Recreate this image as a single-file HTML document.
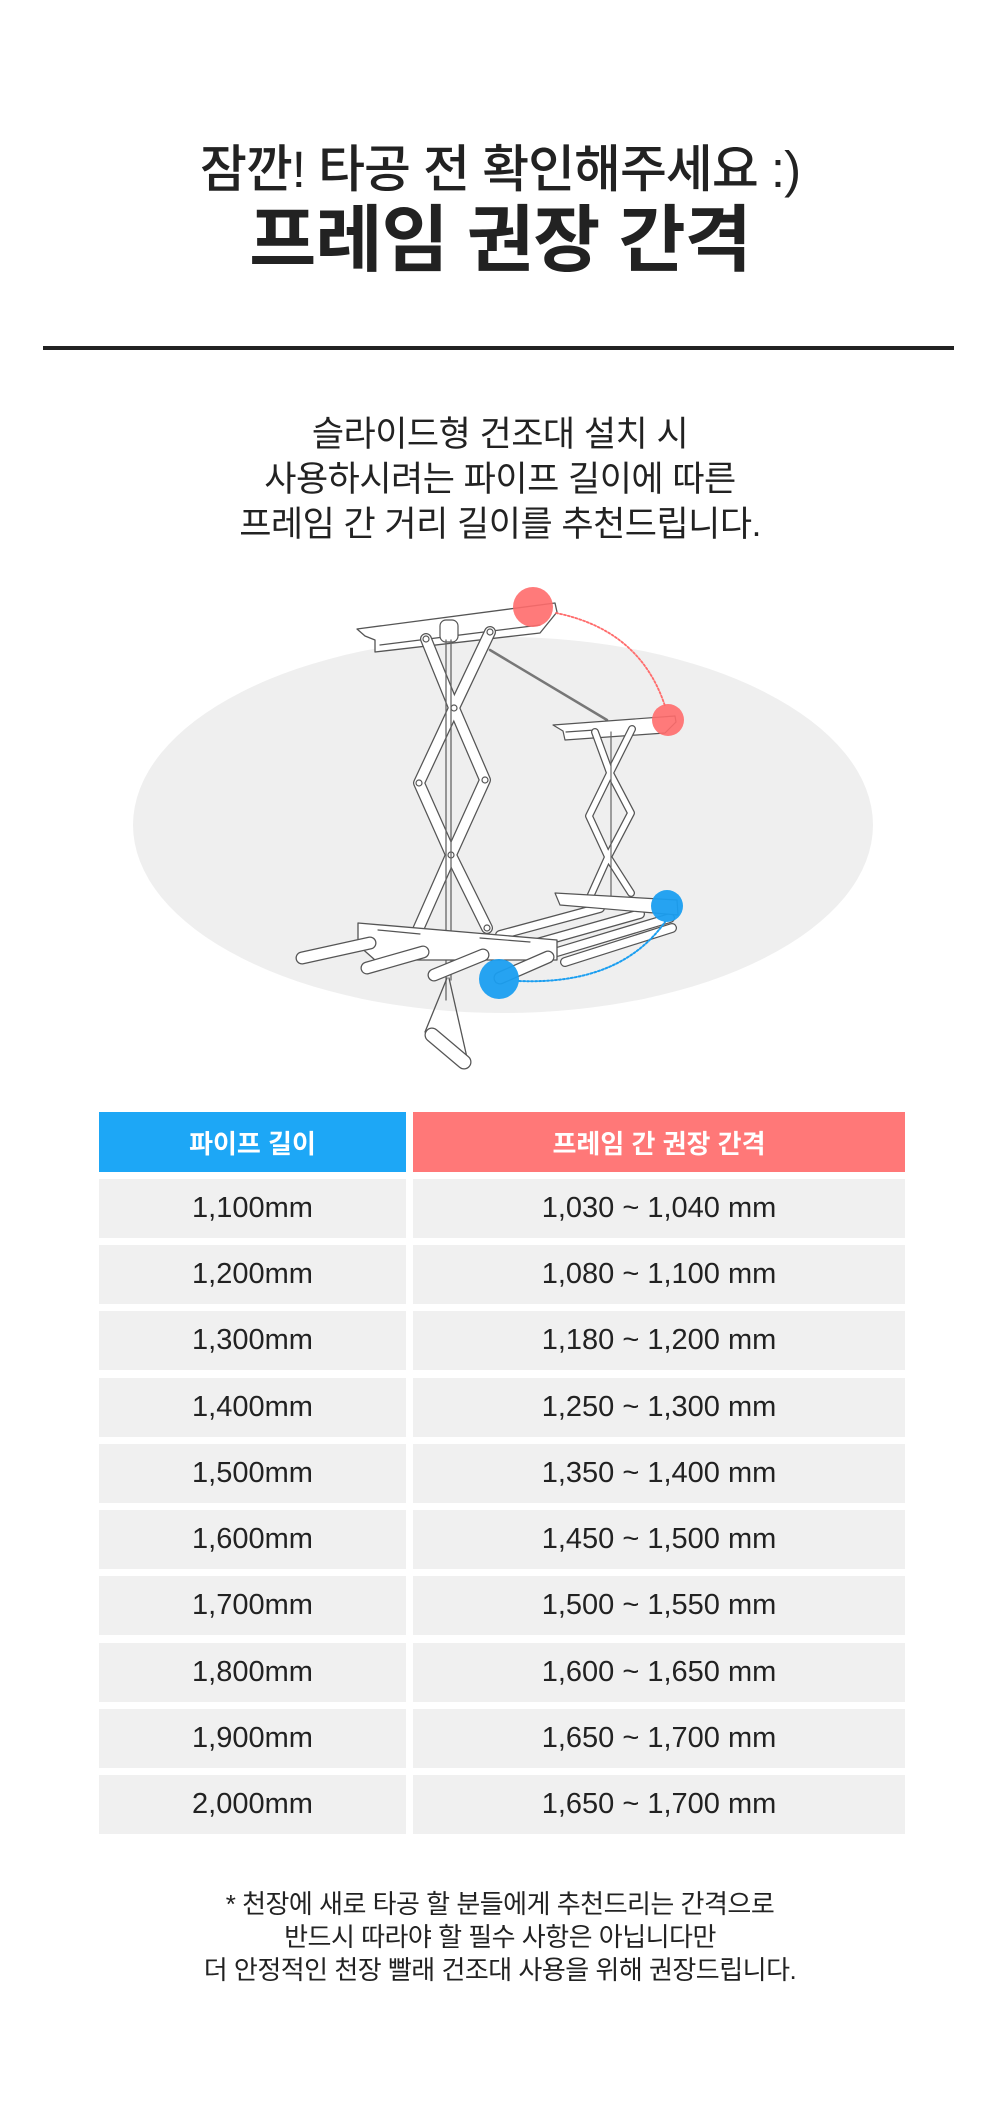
<!DOCTYPE html>
<html><head><meta charset="utf-8">
<style>
*{margin:0;padding:0;box-sizing:border-box}
body{width:1000px;height:2106px;background:#fff;position:relative;overflow:hidden;font-family:"Liberation Sans","Noto Sans CJK KR",sans-serif;color:#222}
.c{position:absolute;left:0;width:1000px;text-align:center;white-space:nowrap}
.t1{top:140px;font-size:51px;font-weight:500;line-height:60px;letter-spacing:-1px}
.t2{top:200px;font-size:73px;font-weight:700;line-height:82px;letter-spacing:-1px}
.rule{position:absolute;left:43px;top:346px;width:911px;height:4px;background:#222}
.p{top:412px;font-size:35px;line-height:45px;letter-spacing:-0.5px}
.cell{position:absolute;display:flex;align-items:center;justify-content:center;font-size:29px;background:#f0f0f0;color:#222}
.h{color:#fff;font-weight:700;font-size:26px}
.fn{top:1888px;font-size:26px;line-height:33px;letter-spacing:-0.5px}
</style></head><body>
<div class="c t1">잠깐! 타공 전 확인해주세요 :)</div>
<div class="c t2">프레임 권장 간격</div>
<div class="rule"></div>
<div class="c p">슬라이드형 건조대 설치 시<br>사용하시려는 파이프 길이에 따른<br>프레임 간 거리 길이를 추천드립니다.</div>

<svg style="position:absolute;left:0;top:0" width="1000" height="1100" viewBox="0 0 1000 1100">
<ellipse cx="503" cy="825" rx="370" ry="188" fill="#efefef"/>
<g fill="none" stroke-linecap="round" stroke-linejoin="round">
<line x1="490" y1="650" x2="607" y2="720" stroke="#777" stroke-width="2.5"/>
<polygon points="357,629 555,603 557,612 540,633 375,652 375,640 365,636" fill="#fff" stroke="#555" stroke-width="1.3"/>
<line x1="380" y1="645" x2="540" y2="625" stroke="#555" stroke-width="1.3"/>
<g stroke="#555" stroke-width="12"><polyline points="426,639 454,708 485,780 451,855 417,932"/><polyline points="490,632 454,708 419,783 451,855 487,928"/></g>
<g stroke="#fff" stroke-width="9.5"><polyline points="426,639 454,708 485,780 451,855 417,932"/><polyline points="490,632 454,708 419,783 451,855 487,928"/></g>
<g fill="#fff" stroke="#555" stroke-width="1.2"><circle cx="426" cy="639" r="3"/><circle cx="490" cy="632" r="3"/><circle cx="454" cy="708" r="3"/><circle cx="419" cy="783" r="3"/><circle cx="485" cy="780" r="3"/><circle cx="451" cy="855" r="3"/><circle cx="417" cy="932" r="3"/><circle cx="487" cy="928" r="3"/></g>
<rect x="440" y="620" width="18" height="22" rx="6" fill="#fff" stroke="#555" stroke-width="1.2"/>
<line x1="446" y1="640" x2="446" y2="1000" stroke="#666" stroke-width="1.3"/>
<line x1="451" y1="640" x2="451" y2="980" stroke="#666" stroke-width="1.3"/>
<polygon points="553,725 675,716 676,722 665,733 565,740 563,731" fill="#fff" stroke="#555" stroke-width="1.2"/>
<line x1="566" y1="732" x2="595" y2="730" stroke="#555" stroke-width="1.2"/>
<g stroke="#555" stroke-width="8"><polyline points="595,732 610,773 631,813 608,857 590,897"/><polyline points="632,729 610,773 589,816 608,857 631,893"/></g>
<g stroke="#fff" stroke-width="5.5"><polyline points="595,732 610,773 631,813 608,857 590,897"/><polyline points="632,729 610,773 589,816 608,857 631,893"/></g>
<line x1="611" y1="732" x2="611" y2="900" stroke="#666" stroke-width="1.2"/>
<g stroke="#555" stroke-width="10"><line x1="500" y1="935" x2="600" y2="908"/><line x1="530" y1="945" x2="640" y2="914"/><line x1="557" y1="952" x2="670" y2="918"/><line x1="565" y1="962" x2="672" y2="928"/></g>
<g stroke="#fff" stroke-width="7.5"><line x1="500" y1="935" x2="600" y2="908"/><line x1="530" y1="945" x2="640" y2="914"/><line x1="557" y1="952" x2="670" y2="918"/><line x1="565" y1="962" x2="672" y2="928"/></g>
<polygon points="555,893 677,900 678,915 560,905" fill="#fff" stroke="#555" stroke-width="1.2"/>
<polygon points="358,923 557,940 557,960 375,960 358,945" fill="#fff" stroke="#555" stroke-width="1.3"/>
<line x1="378" y1="930" x2="420" y2="934" stroke="#555" stroke-width="1.2"/>
<line x1="480" y1="938" x2="530" y2="942" stroke="#555" stroke-width="1.2"/>
<g stroke="#555" stroke-width="13"><line x1="370" y1="943" x2="302" y2="958"/><line x1="423" y1="952" x2="367" y2="968"/><line x1="483" y1="955" x2="434" y2="975"/><line x1="548" y1="957" x2="500" y2="978"/></g>
<g stroke="#fff" stroke-width="10.5"><line x1="370" y1="943" x2="302" y2="958"/><line x1="423" y1="952" x2="367" y2="968"/><line x1="483" y1="955" x2="434" y2="975"/><line x1="548" y1="957" x2="500" y2="978"/></g>
<path d="M447 978 L425 1032 M449 978 L468 1062" stroke="#555" stroke-width="1.3"/>
<g stroke="#555" stroke-width="15"><line x1="432" y1="1035" x2="464" y2="1062"/></g>
<g stroke="#fff" stroke-width="12.5"><line x1="432" y1="1035" x2="464" y2="1062"/></g>
<circle cx="533" cy="607" r="20" fill="#ff6b6b" opacity=".9"/>
<circle cx="668" cy="720" r="16" fill="#ff6b6b" opacity=".9"/>
<circle cx="667" cy="906" r="16" fill="#1a9ef0" opacity=".95"/>
<circle cx="499" cy="979" r="20" fill="#1a9ef0" opacity=".95"/>
<path d="M556 613 Q640 630 665 706" stroke="#ff6b6b" stroke-width="1.8" stroke-dasharray="2 2"/>
<path d="M519 981 Q620 985 665 922" stroke="#1a9ef0" stroke-width="2" stroke-dasharray="2 2"/>
</g>
</svg>

<div class="cell h" style="left:99px;top:1112px;width:307px;height:60px;background:#1da7f6">파이프 길이</div>
<div class="cell h" style="left:413px;top:1112px;width:492px;height:60px;background:#ff7878">프레임 간 권장 간격</div>
<div class="cell" style="left:99px;top:1179px;width:307px;height:59px">1,100mm</div><div class="cell" style="left:413px;top:1179px;width:492px;height:59px">1,030 ~ 1,040 mm</div>
<div class="cell" style="left:99px;top:1245px;width:307px;height:59px">1,200mm</div><div class="cell" style="left:413px;top:1245px;width:492px;height:59px">1,080 ~ 1,100 mm</div>
<div class="cell" style="left:99px;top:1311px;width:307px;height:59px">1,300mm</div><div class="cell" style="left:413px;top:1311px;width:492px;height:59px">1,180 ~ 1,200 mm</div>
<div class="cell" style="left:99px;top:1378px;width:307px;height:59px">1,400mm</div><div class="cell" style="left:413px;top:1378px;width:492px;height:59px">1,250 ~ 1,300 mm</div>
<div class="cell" style="left:99px;top:1444px;width:307px;height:59px">1,500mm</div><div class="cell" style="left:413px;top:1444px;width:492px;height:59px">1,350 ~ 1,400 mm</div>
<div class="cell" style="left:99px;top:1510px;width:307px;height:59px">1,600mm</div><div class="cell" style="left:413px;top:1510px;width:492px;height:59px">1,450 ~ 1,500 mm</div>
<div class="cell" style="left:99px;top:1576px;width:307px;height:59px">1,700mm</div><div class="cell" style="left:413px;top:1576px;width:492px;height:59px">1,500 ~ 1,550 mm</div>
<div class="cell" style="left:99px;top:1643px;width:307px;height:59px">1,800mm</div><div class="cell" style="left:413px;top:1643px;width:492px;height:59px">1,600 ~ 1,650 mm</div>
<div class="cell" style="left:99px;top:1709px;width:307px;height:59px">1,900mm</div><div class="cell" style="left:413px;top:1709px;width:492px;height:59px">1,650 ~ 1,700 mm</div>
<div class="cell" style="left:99px;top:1775px;width:307px;height:59px">2,000mm</div><div class="cell" style="left:413px;top:1775px;width:492px;height:59px">1,650 ~ 1,700 mm</div>

<div class="c fn">* 천장에 새로 타공 할 분들에게 추천드리는 간격으로<br>반드시 따라야 할 필수 사항은 아닙니다만<br>더 안정적인 천장 빨래 건조대 사용을 위해 권장드립니다.</div>
</body></html>
